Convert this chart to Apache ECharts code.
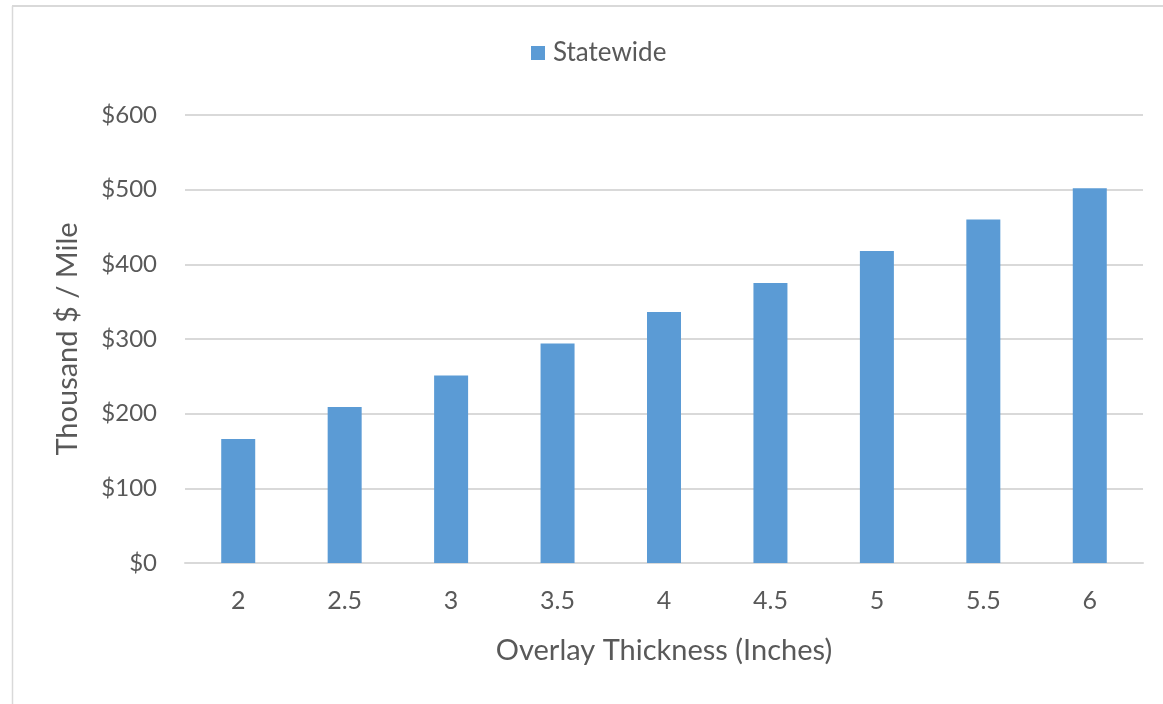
<!DOCTYPE html>
<html>
<head>
<meta charset="utf-8">
<script src="https://cdn.jsdelivr.net/npm/echarts@6/dist/echarts.min.js"></script>
<style>
  html, body { margin: 0; padding: 0; background: #ffffff; }
  #chart { width: 1163px; height: 704px; }
</style>
</head>
<body>
<div id="chart"></div>
<script>
// Overlay thickness categories (inches)
const thicknessLabels = ['2', '2.5', '3', '3.5', '4', '4.5', '5', '5.5', '6'];
// Statewide cost, thousand $ per mile
const statewideCost = [166, 209, 251, 294, 336, 375, 418, 460, 502];
// Value axis ticks
const yTicks = [0, 100, 200, 300, 400, 500, 600];

const textGray = '#595959';
const gridGray = '#d9d9d9';
const fontFamily = 'Lato, "Open Sans", sans-serif';

const chart = echarts.init(document.getElementById('chart'), null, { renderer: 'canvas' });

chart.setOption({
  backgroundColor: '#ffffff',
  animation: false,
  textStyle: { fontFamily: fontFamily },
  graphic: [
    // chart frame (left and top edges)
    { type: 'line', shape: { x1: 12.5, y1: 6, x2: 12.5, y2: 704 }, style: { stroke: gridGray, lineWidth: 1.5 } },
    { type: 'line', shape: { x1: 12, y1: 6, x2: 1163, y2: 6 }, style: { stroke: gridGray, lineWidth: 2 } }
  ],
  legend: {
    top: 35,
    left: 526,
    itemWidth: 14,
    itemHeight: 14,
    icon: 'rect',
    itemGap: 8,
    textStyle: { color: textGray, fontSize: 26, fontFamily: fontFamily, padding: [0, 0, 0, 3] },
    data: ['Statewide']
  },
  grid: { left: 185, right: 20, top: 115, bottom: 141, containLabel: false },
  xAxis: {
    type: 'category',
    data: thicknessLabels,
    name: 'Overlay Thickness (Inches)',
    nameLocation: 'middle',
    nameGap: 73,
    nameTextStyle: { color: textGray, fontSize: 29, fontFamily: fontFamily },
    axisLine: { show: true, lineStyle: { color: gridGray, width: 2 } },
    axisTick: { show: false },
    axisLabel: { color: textGray, fontSize: 25, margin: 25, fontFamily: fontFamily }
  },
  yAxis: {
    type: 'value',
    min: yTicks[0],
    max: yTicks[yTicks.length - 1],
    interval: 100,
    name: 'Thousand $ / Mile',
    nameLocation: 'middle',
    nameGap: 103,
    nameRotate: 90,
    nameTextStyle: { color: textGray, fontSize: 29, fontFamily: fontFamily },
    axisLine: { show: false },
    axisTick: { show: false },
    splitLine: { show: true, lineStyle: { color: gridGray, width: 2 } },
    axisLabel: {
      color: textGray,
      fontSize: 24,
      margin: 28,
      fontFamily: fontFamily,
      formatter: v => '$' + v
    }
  },
  series: [{
    name: 'Statewide',
    type: 'bar',
    data: statewideCost,
    barWidth: 34,
    itemStyle: { color: '#5b9bd5' }
  }]
});
</script>
</body>
</html>
